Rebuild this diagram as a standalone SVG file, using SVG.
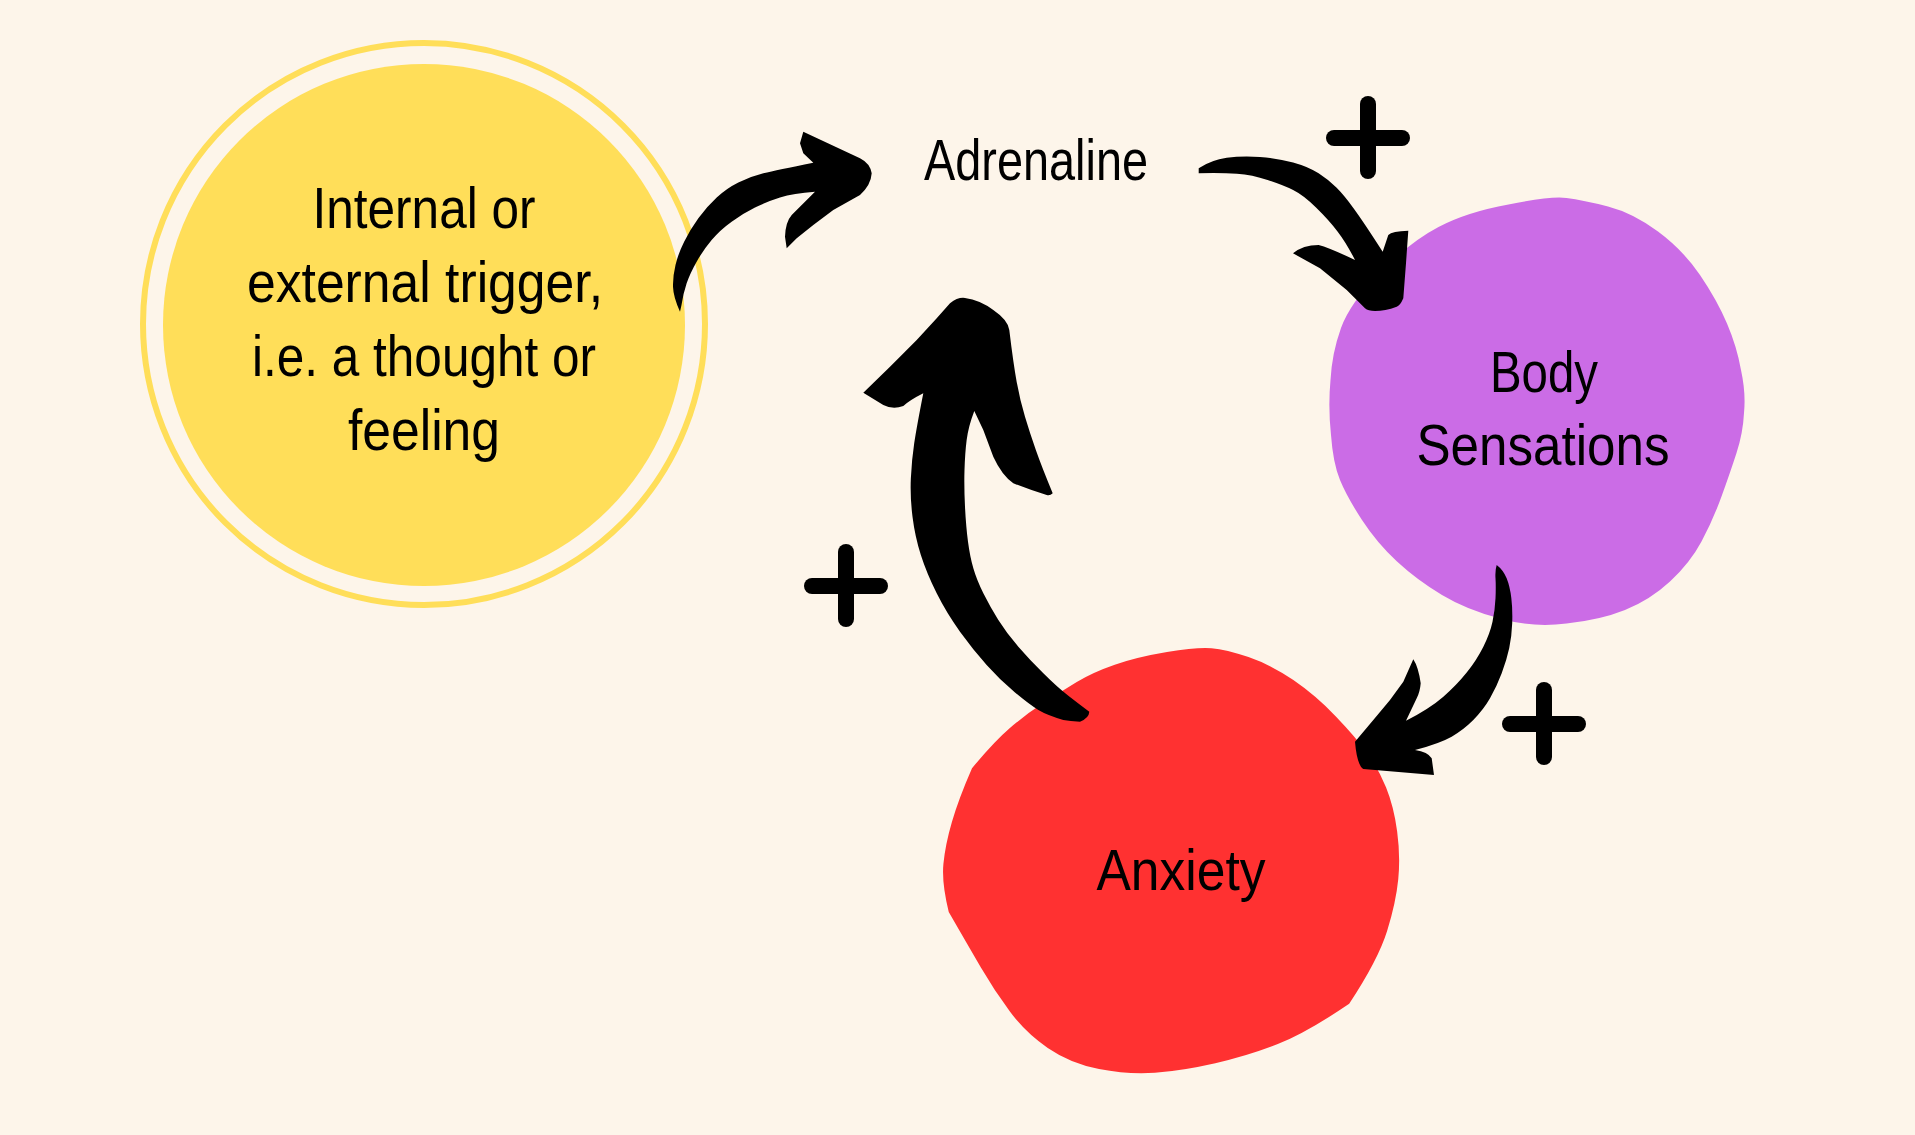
<svg xmlns="http://www.w3.org/2000/svg" width="1915" height="1135" viewBox="0 0 1915 1135">
  <style>
    .lbl { font-family: "Liberation Sans", Arial, sans-serif; font-size: 58px; fill: #000000; text-anchor: middle; }
    .arrow { fill: #000000; stroke: none; }
    .plus { fill: #000000; }
  </style>
  <rect x="0" y="0" width="1915" height="1135" fill="#FDF5EA"/>

  <g id="node-trigger">
    <circle cx="424" cy="324" r="281" fill="none" stroke="#FFDE59" stroke-width="6"/>
    <circle cx="424" cy="325" r="261" fill="#FFDE59"/>
    <text class="lbl" x="424" y="228" textLength="223" lengthAdjust="spacingAndGlyphs">Internal or</text>
    <text class="lbl" x="425" y="302" textLength="356" lengthAdjust="spacingAndGlyphs">external trigger,</text>
    <text class="lbl" x="424" y="376" textLength="344" lengthAdjust="spacingAndGlyphs">i.e. a thought or</text>
    <text class="lbl" x="424" y="450" textLength="152" lengthAdjust="spacingAndGlyphs">feeling</text>
  </g>

  <g id="node-adrenaline">
    <text class="lbl" x="1036" y="180" textLength="224" lengthAdjust="spacingAndGlyphs">Adrenaline</text>
  </g>

  <g id="node-body">
    <path fill="#CB6CE6" d="M 1508.5,204.5 Q 1550,196 1566.5,198 Q 1583,200 1608,206.5 Q 1633,213 1658,231.5 Q 1683,250 1700,275 Q 1717,300 1727,323.5 Q 1737,347 1741,370 Q 1746,393 1744,413 Q 1743,433 1736.5,453 Q 1730,473 1721.5,496.5 Q 1713,520 1701.5,541.5 Q 1690,563 1670,581.5 Q 1650,600 1625,610 Q 1600,620 1566.5,623.5 Q 1533,628 1500,618.5 Q 1467,610 1442,595 Q 1417,580 1397,561.5 Q 1377,543 1362,520 Q 1347,497 1340,480 Q 1333,463 1331,435 Q 1328,407 1330.5,380 Q 1332,353 1341,328 Q 1350,303 1380,272.5 Q 1410,242 1438.5,227 Q 1467,212 1508.5,204.5 Z"/>
    <text class="lbl" x="1544" y="392" textLength="108" lengthAdjust="spacingAndGlyphs">Body</text>
    <text class="lbl" x="1543" y="465" textLength="253" lengthAdjust="spacingAndGlyphs">Sensations</text>
  </g>

  <g id="node-anxiety">
    <path fill="#FF3131" d="M 972,768.2 Q 958.6,798.9 951.9,821.9 Q 945.2,844.8 943.4,864 Q 941.6,883.1 948.75,911.9 Q 967.5,944.4 980.9,967.4 Q 994.3,990.4 1009.9,1011.5 Q 1025.5,1032.6 1047.75,1047.9 Q 1070,1063.2 1099,1069 Q 1128,1074.7 1154.9,1072.8 Q 1181.8,1070.9 1215.3,1063.25 Q 1248.75,1055.6 1277.8,1044.1 Q 1306.8,1032.6 1349.2,1003.8 Q 1378.2,959.8 1387.1,931.05 Q 1396,902.3 1398.25,879.3 Q 1400.5,856.3 1397.15,831.4 Q 1393.8,806.5 1386,787.35 Q 1378.2,768.2 1367.1,752.85 Q 1356,737.5 1335.85,716.45 Q 1315.7,695.4 1293.35,680.1 Q 1271,664.8 1248.5,657.1 Q 1226,649.4 1211.5,648.2 Q 1197,647 1167,652 Q 1137,657 1114.75,664.7 Q 1092.5,672.4 1076.75,682 Q 1061,691.6 1043.25,703.1 Q 1025.5,714.6 1009.9,728 Q 994.3,741.4 972,768.2 Z"/>
    <text class="lbl" x="1181" y="890" textLength="169" lengthAdjust="spacingAndGlyphs">Anxiety</text>
  </g>

  <g id="connectors">
    <path id="arrow-trigger-adrenaline" class="arrow" d="M 680,311.7 Q 673.3,296.7 673,286.7 Q 672.7,276.7 675.5,265 Q 678.3,253.3 684.15,241.65 Q 690,230 698.35,218.35 Q 706.7,206.7 716.7,197.5 Q 726.7,188.3 738.35,182.5 Q 750,176.7 763.35,173.35 Q 776.7,170 813.3,162.7 L 803.3,153.3 L 800,143.3 L 803.3,131.7 L 860,158.3 Q 870,163.3 871.7,173.3 Q 871,185 860,195 L 833.3,210 L 813.3,225 L 796.7,238.3 L 786.7,248.3 L 785,236.7 Q 785.5,222 791.7,215 L 815,191.7 Q 793.3,193.3 780,197.5 Q 766.7,201.7 755,207.5 Q 743.3,213.3 731.65,221.65 Q 720,230 711.65,240 Q 703.3,250 696.65,261.65 Q 690,273.3 686.65,283.3 Q 683.3,293.3 681.5,305 Z"/>
    <path id="arrow-adrenaline-body" class="arrow" d="M 1198.7,173.3 L 1198.7,168.3 Q 1211.4,160 1226.7,157.85 Q 1242,155.7 1259.9,157 Q 1277.8,158.3 1293.1,162.5 Q 1308.4,166.7 1318.6,173.35 Q 1328.8,180 1336.4,187.5 Q 1344,195 1354.25,209.15 Q 1364.5,223.3 1382.7,251.7 L 1388.3,235 Q 1392,231 1408.3,230.7 L 1406,263.3 L 1403.3,298.3 Q 1400,306 1396.7,306.7 Q 1385,311 1375,311 Q 1368,311 1365,308.3 L 1346.7,290 L 1320,268.3 L 1293,253.3 Q 1303,245 1318.6,245 Q 1330,248 1355,260 Q 1346.6,243.3 1337.7,231.65 Q 1328.8,220 1316,207.5 Q 1303.3,195 1293.1,190 Q 1282.9,185 1267.55,180 Q 1252.2,175 1236.9,173.85 Q 1221.6,172.7 1198.7,173.3 Z"/>
    <path id="arrow-body-anxiety" class="arrow" d="M 1496.7,565 Q 1503.3,570 1506.65,578.35 Q 1510,586.7 1511.35,598.35 Q 1512.7,610 1512.2,623.35 Q 1511.7,636.7 1509.2,648.35 Q 1506.7,660 1501.7,673.35 Q 1496.7,686.7 1490,698.35 Q 1483.3,710 1473.3,720 Q 1463.3,730 1451.65,736.65 Q 1440,743.3 1415,750 Q 1428,752 1431.7,758.3 L 1434,775 L 1363.3,769 Q 1357,765 1355,741.7 L 1373.3,720 L 1390,700 L 1403.3,681.7 L 1413.3,659.3 Q 1418.3,666.7 1420.7,683.3 Q 1420,692 1416.7,698.3 L 1406,720.7 Q 1430,708.3 1443.35,696.65 Q 1456.7,685 1466.7,672.5 Q 1476.7,660 1483.35,646.65 Q 1490,633.3 1492.5,621.65 Q 1495,610 1495.5,598.35 Q 1496,586.7 1495.5,578.35 Q 1495,570 1496.7,565 Z"/>
    <path id="arrow-anxiety-adrenaline" class="arrow" d="M 950,303.3 Q 958,297 965,298 Q 980,300 993.3,310 Q 1008,320 1009.3,330 Q 1013.3,363.3 1016.65,381.65 Q 1020,400 1025,416.65 Q 1030,433.3 1035.85,450 Q 1041.7,466.7 1052.7,493.3 Q 1050,496 1046.7,495 Q 1030,490 1013.3,483.3 Q 1001.7,475 993.3,456.7 L 983.3,430 L 974.3,411 Q 968.3,426.7 966.65,440 Q 965,453.3 964.5,470 Q 964,486.7 965,506.7 Q 966,526.7 968,541.7 Q 970,556.7 973.35,568.35 Q 976.7,580 983.35,593.35 Q 990,606.7 998.35,620 Q 1006.7,633.3 1018.35,646.65 Q 1030,660 1043.35,673.35 Q 1056.7,686.7 1068.35,695.85 Q 1080,705 1089.3,711.7 Q 1089,718 1080,721.7 Q 1070,721 1063.3,720 Q 1046.7,715 1038.35,710 Q 1030,705 1015,692.5 Q 1000,680 986.65,665 Q 973.3,650 960,631.65 Q 946.7,613.3 936.7,593.3 Q 926.7,573.3 920.85,555 Q 915,536.7 912.5,516.7 Q 910,496.7 910.85,478.35 Q 911.7,460 914.2,443.35 Q 916.7,426.7 923.3,393.3 Q 910,400 903.3,406 Q 893,410 883.3,405 L 863.3,392.7 L 890,366.7 L 916.7,340 L 936.7,318.3 Z"/>
  </g>

  <g id="plus-signs">
    <g id="plus-top">
      <rect class="plus" x="1360" y="96" width="16" height="83" rx="8"/>
      <rect class="plus" x="1326" y="130" width="84" height="16" rx="8"/>
    </g>
    <g id="plus-left">
      <rect class="plus" x="838" y="544" width="16" height="83" rx="8"/>
      <rect class="plus" x="804" y="578" width="84" height="16" rx="8"/>
    </g>
    <g id="plus-right">
      <rect class="plus" x="1536" y="682" width="16" height="83" rx="8"/>
      <rect class="plus" x="1502" y="716" width="84" height="16" rx="8"/>
    </g>
  </g>
</svg>
